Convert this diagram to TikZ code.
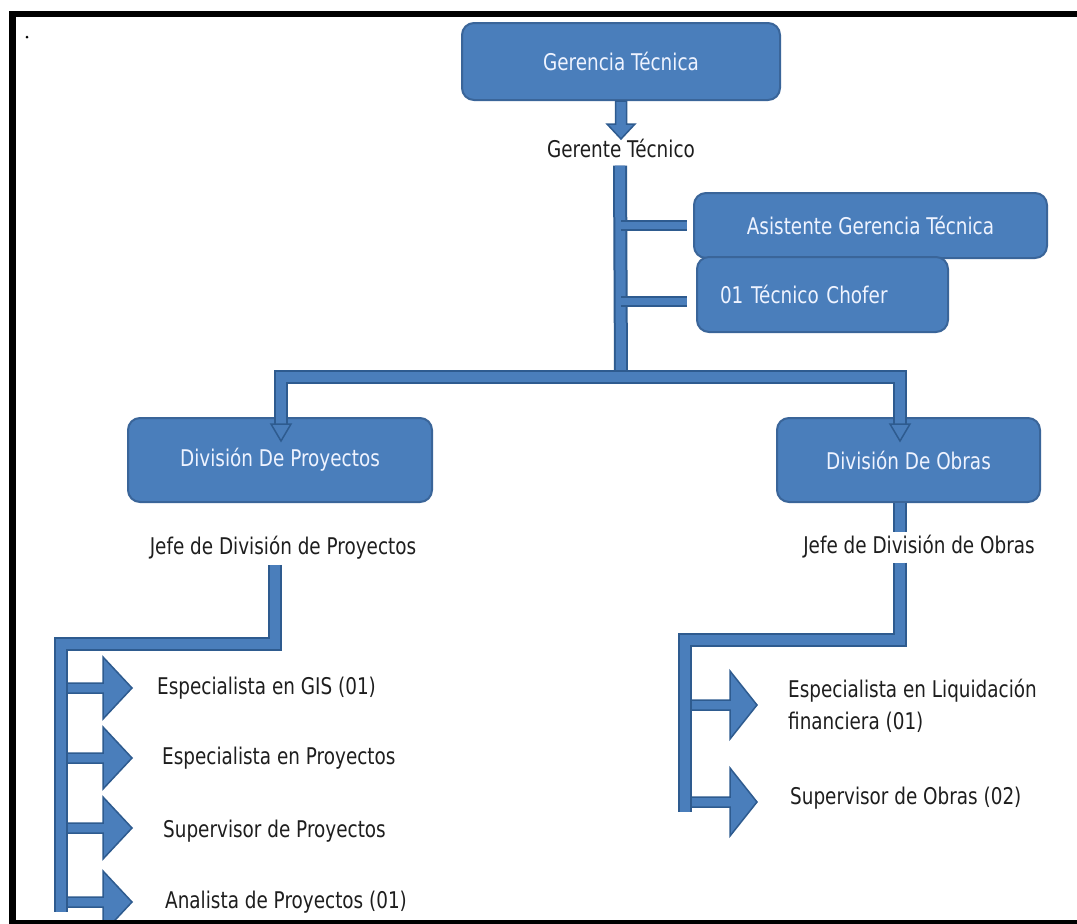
\documentclass[tikz,border=0pt]{standalone}
\usepackage{fontspec}
\setmainfont{DejaVu Sans}[FakeStretch=0.80]
\usetikzlibrary{calc}
\definecolor{boxfill}{HTML}{4A7EBB}
\definecolor{boxline}{HTML}{3A6599}
\definecolor{connfill}{HTML}{4A7EBB}
\definecolor{connline}{HTML}{2E5B8F}
\definecolor{txt}{HTML}{1E1E1E}
\definecolor{boxtxt}{HTML}{EEF3FF}
\newcommand{\blockarrow}[4]{% #1 start coordinate name, #2 shaft length, #3 head length, #4 head half height
  \filldraw[blk] ($(#1)+(0,-5)$) -- ++(#2,0) -- ++(0,{-(#4-5)}) -- ++(#3,#4) -- ++(-#3,#4) -- ++(0,{-(#4-5)}) -- ++(-#2,0) -- cycle;}
\begin{document}
\begin{tikzpicture}[x=1pt,y=-1pt,
  unitbox/.style={draw=boxline, line width=2pt, fill=boxfill, rounded corners=12pt,
    text=boxtxt, font=\fontsize{23}{27}\selectfont, inner sep=0pt},
  lbl/.style={text=txt, font=\fontsize{23}{32}\selectfont, inner sep=0pt, align=left},
  strip/.style={draw=connline, line width=14pt, line join=miter, postaction={draw=connfill, line width=10pt}},
  thinstrip/.style={draw=connline, line width=11pt, postaction={draw=connfill, line width=7pt}},
  blk/.style={fill=connfill, draw=connline, line width=1.5pt, line join=miter}
]
\fill[white] (0,0) rectangle (1077,924);
\useasboundingbox (0,0) rectangle (1077,924);
\fill[black] (27,37) circle (1.5);

% boxes
\node[unitbox, minimum width=318pt, minimum height=77pt] (gt) at (621,61.5) {Gerencia Técnica};
\node[unitbox, minimum width=353pt, minimum height=65pt] (agt) at (870.5,225.5) {Asistente Gerencia Técnica};
\node[unitbox, minimum width=251pt, minimum height=75pt, text width=205pt, align=left] (chofer) at (822.5,294.5) {01 Técnico Chofer};
\node[unitbox, minimum width=304pt, minimum height=84pt] (dp) at (280,460) {División De Proyectos};
\node[unitbox, minimum width=263pt, minimum height=84pt] (dob) at (908.5,460) {División De Obras};

% plain labels
\node[lbl] (gte) at (621,148) {Gerente Técnico};
\node[lbl] (jdp) at (283,548) {Jefe de División de Proyectos};
\node[lbl] (jdo) at (919,547) {Jefe de División de Obras};
\node[lbl, anchor=west] (gis) at (157,688) {Especialista en GIS (01)};
\node[lbl, anchor=west] (esp) at (162,758) {Especialista en Proyectos};
\node[lbl, anchor=west] (sup) at (163,831) {Supervisor de Proyectos};
\node[lbl, anchor=west] (ana) at (165,902) {Analista de Proyectos (01)};
\node[lbl, anchor=west] (liq) at (788,706) {Especialista en Liquidación\\financiera (01)};
\node[lbl, anchor=west] (sob) at (790,798) {Supervisor de Obras (02)};

% coordinates
\coordinate (hub) at (621,377);
\coordinate (barL) at (281,377);
\coordinate (barR) at (900,377);
\coordinate (l1) at (61,644);
\coordinate (lend) at (61,912);
\coordinate (r1) at (685,640);
\coordinate (rend) at (685,812);

% Gerencia -> Gerente
\filldraw[blk] ($(gt.south)+(-5.5,0)$) -- ++(0,23) -- ++(-8.5,0) -- ++(14,15) -- ++(14,-15) -- ++(-8.5,0) -- ++(0,-23) -- cycle;

% Gerente -> hub
\draw[strip] ($(gte.south)+(-1,8)$) -- (hub);
% branches to staff
\draw[thinstrip] (hub |- agt.west) -- ($(agt.west)+(-6,0)$);
\draw[thinstrip] ($(hub |- chofer.west)+(0,7)$) -- ($(chofer.west)+(-9,7)$);
% main bar to divisions
\draw[strip] ($(barL |- dp.north)+(0,7)$) -- (barL) -- (barR) -- ($(barR |- dob.north)+(0,7)$);
\filldraw[blk] ($(barL |- dp.north)+(-10,7)$) -- ++(20,0) -- ++(-10,17) -- cycle;
\filldraw[blk] ($(barR |- dob.north)+(-10,7)$) -- ++(20,0) -- ++(-10,17) -- cycle;

% Obras -> Jefe de Obras
\draw[strip] (barR |- dob.south) -- ($(barR |- jdo.north)+(0,-3)$);
% Jefe de Obras -> right spine
\draw[strip] ($(barR |- jdo.south)+(0,4)$) -- (barR |- r1) -- (r1) -- (rend);
\path (r1 |- liq.west) ++(6,-1) coordinate (ra1);
\path (r1 |- sob.west) ++(6,4) coordinate (ra2);
\blockarrow{ra1}{39}{27}{34}
\blockarrow{ra2}{39}{27}{34}

% Jefe de Proyectos -> left spine
\path (jdp.south) ++(-8,5) coordinate (l0);
\draw[strip] (l0) -- (l0 |- l1) -- (l1) -- (lend);
\path (l1 |- gis.west) ++(6,0) coordinate (la1);
\path (l1 |- esp.west) ++(6,0) coordinate (la2);
\path (l1 |- sup.west) ++(6,-3) coordinate (la3);
\path (l1 |- ana.west) ++(6,0) coordinate (la4);
\blockarrow{la1}{36}{29}{31}
\blockarrow{la2}{36}{29}{31}
\blockarrow{la3}{36}{29}{31}
\blockarrow{la4}{36}{29}{31}

% frame
\fill[black] (9,11) rectangle (1077,17);
\fill[black] (9,11) rectangle (16,924);
\fill[black] (9,920) rectangle (1077,924);
\fill[white] (0,924) rectangle (1077,940);
\end{tikzpicture}
\end{document}
